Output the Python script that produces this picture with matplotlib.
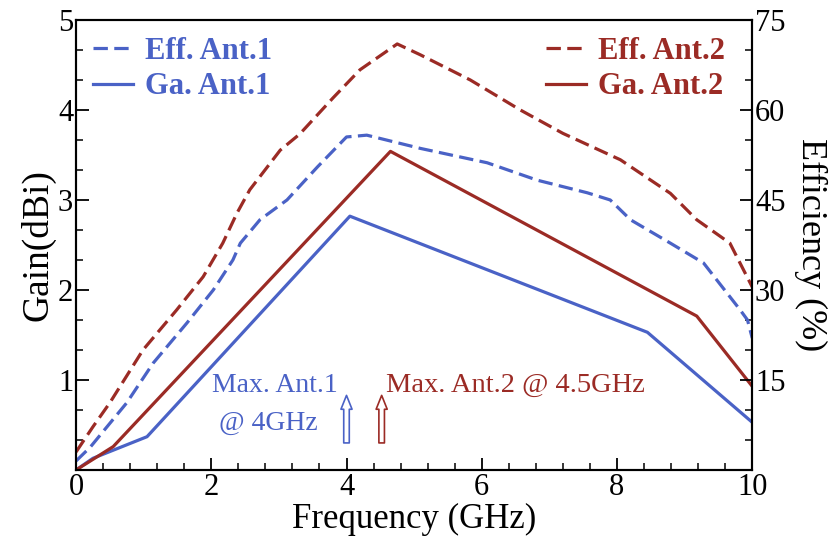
import matplotlib.pyplot as plt
from matplotlib.ticker import MultipleLocator

# Gain curves (dBi)
f_ga1 = [0, 0.25, 1.05, 4.05, 8.45, 10]
ga1 = [0, 0.13, 0.37, 2.82, 1.53, 0.53]
f_ga2 = [0, 0.55, 4.65, 9.18, 10]
ga2 = [0, 0.26, 3.54, 1.71, 0.93]

# Efficiency curves (%)
f_eff1 = [0, 0.21, 0.75, 1.14, 1.64, 2.03, 2.32, 2.43, 2.72, 3.12, 3.57, 4.0,
          4.3, 5.09, 6.08, 6.82, 7.56, 7.9, 8.2, 8.79, 9.28, 9.82, 9.93, 10]
eff1 = [1.5, 3.8, 11.2, 17.8, 24.5, 30, 35, 37.8, 41.7, 45, 50.5, 55.5,
        55.8, 53.6, 51.2, 48.3, 46.2, 45, 41.7, 37.8, 34.5, 26.7, 25, 22]
f_eff2 = [0, 0.25, 0.5, 0.99, 1.49, 1.88, 2.17, 2.38, 2.57, 3.02, 3.31, 3.8,
          4.2, 4.75, 5.09, 5.83, 6.57, 7.2, 8.05, 8.79, 9.18, 9.67, 10]
eff2 = [3, 7.2, 11.2, 20, 26.7, 32.2, 37.8, 42.8, 46.7, 53.3, 56, 62,
        66.7, 71, 69.2, 65, 60, 56.1, 51.7, 46.1, 41.7, 37.8, 30.5]

# frequencies of the maxima (arrows)
max_f = [4.0, 4.52]

blue = '#4a62c6'
red = '#9b2b25'

plt.rcParams['font.family'] = ['Liberation Serif', 'DejaVu Serif']

fig = plt.figure(figsize=(8.4, 5.39), dpi=100)
ax = fig.add_axes([0.0905, 0.128, 0.805, 0.835])
ax2 = ax.twinx()

lw = 2.3
dash = (4.5, 2.0)
ax.plot(f_ga1, ga1, color=blue, lw=lw, label='Ga. Ant.1')
ax.plot(f_ga2, ga2, color=red, lw=lw, label='Ga. Ant.2')
ax2.plot(f_eff1, eff1, color=blue, lw=lw, dashes=dash, label='Eff. Ant.1')
ax2.plot(f_eff2, eff2, color=red, lw=lw, dashes=dash, label='Eff. Ant.2')

ax.set_xlim(0, 10)
ax.set_ylim(0, 5)
ax2.set_ylim(0, 75)

ax.set_xticks([0, 2, 4, 6, 8, 10])
ax.set_yticks([1, 2, 3, 4, 5])
ax2.set_yticks([15, 30, 45, 60, 75])
ax.xaxis.set_minor_locator(MultipleLocator(0.4))
ax.yaxis.set_minor_locator(MultipleLocator(1 / 3))
ax2.yaxis.set_minor_locator(MultipleLocator(5))

for a in (ax, ax2):
    a.tick_params(which='major', direction='in', length=9, width=1.3, labelsize=22, pad=2)
    a.tick_params(which='minor', direction='in', length=5, width=1.1)
    for s in a.spines.values():
        s.set_linewidth(1.5)
ax.tick_params(top=False, right=False)
ax.tick_params(which='minor', top=False, right=False)
ax2.tick_params(axis='y', pad=2)

ax.set_xlabel('Frequency (GHz)', fontsize=25, labelpad=1)
ax.set_ylabel('Gain(dBi)', fontsize=27, labelpad=2)
ax2.set_ylabel('Efficiency (%)', fontsize=26, rotation=270, labelpad=30)

h = ax2.get_lines() + ax.get_lines()
leg_kw = dict(frameon=False, labelcolor='linecolor', handlelength=1.3,
              prop={'weight': 'bold', 'size': 22}, borderaxespad=0.15,
              handletextpad=0.4, labelspacing=0.22)
leg1 = ax2.legend([h[0], h[2]], ['Eff. Ant.1', 'Ga. Ant.1'], loc='upper left', **leg_kw)
ax2.add_artist(leg1)
ax2.legend([h[1], h[3]], ['Eff. Ant.2', 'Ga. Ant.2'], loc='upper right',
           bbox_to_anchor=(0.985, 1.0), **leg_kw)

# hollow arrows marking the maxima
for xf, c in zip(max_f, [blue, red]):
    ax.annotate('', xy=(xf, 0.86), xytext=(xf, 0.27),
                arrowprops=dict(arrowstyle='simple,head_length=1.0,head_width=0.8,tail_width=0.4',
                                fc='white', ec=c, lw=1.2))

ax.text(3.87, 0.94, 'Max. Ant.1', color=blue, fontsize=20, ha='right', va='center')
ax.text(3.58, 0.52, '@ 4GHz', color=blue, fontsize=20, ha='right', va='center')
ax.text(4.59, 0.94, 'Max. Ant.2 @ 4.5GHz', color=red, fontsize=20.5, ha='left', va='center')

fig.savefig('out.png', dpi=100)
